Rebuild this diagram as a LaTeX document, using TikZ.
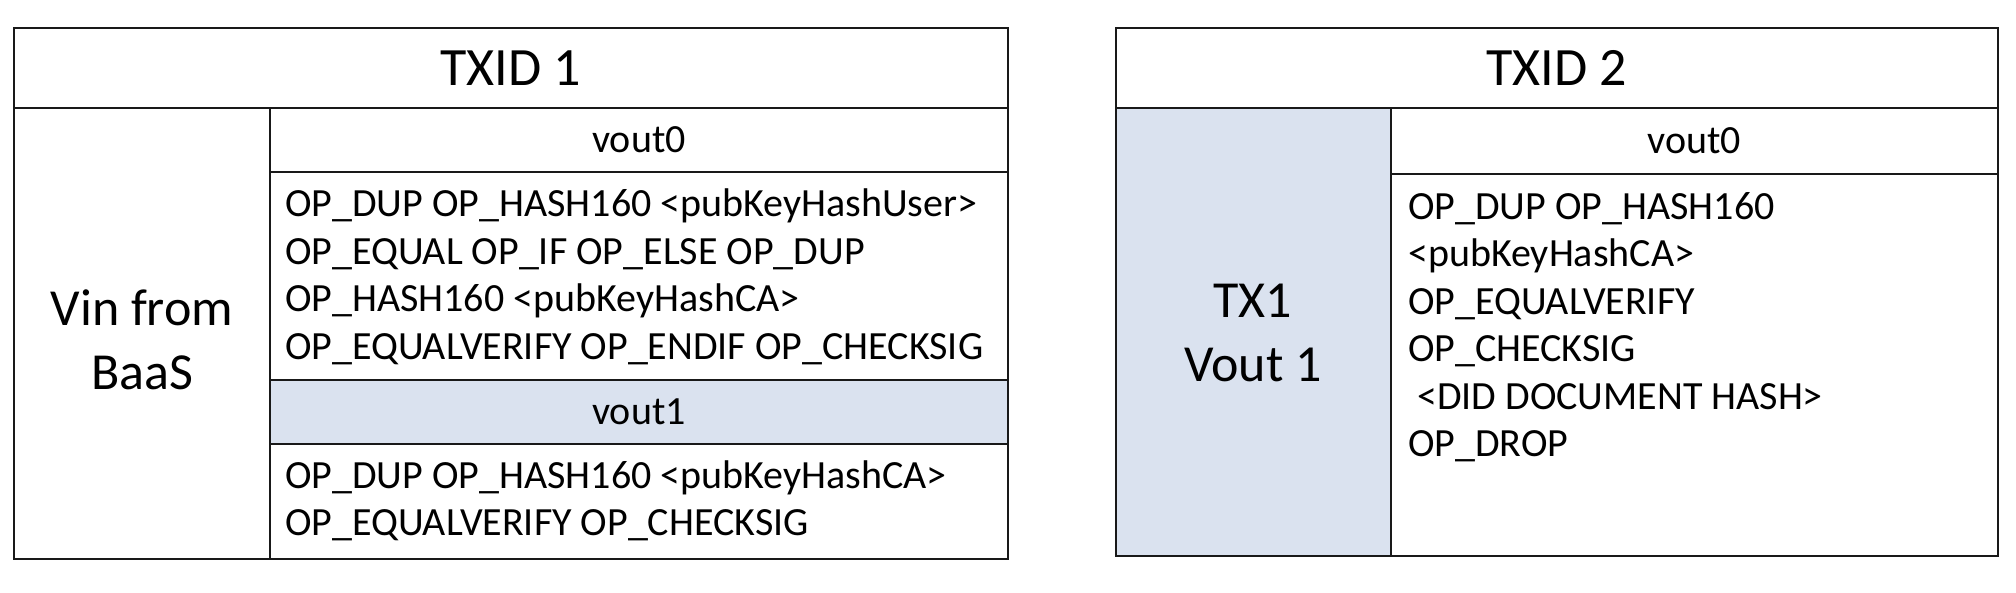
\documentclass[tikz,border=0pt]{standalone}
\usepackage{fontspec}
\setmainfont{Carlito}
\usetikzlibrary{fit}
\definecolor{cellblue}{RGB}{218,226,239}
\newcommand\setfs[2]{\fontsize{#1}{#2}\selectfont}
\begin{document}
\begin{tikzpicture}[x=1pt,y=-1pt,
  cell/.style={draw=black!90, line width=1.8pt, inner sep=0pt, outer sep=0pt, rectangle},
  shaded/.style={cell, fill=cellblue},
  titletext/.style={font=\setfs{54}{64}, inner sep=0pt},
  bigtext/.style={font=\setfs{52}{64}, align=center, inner sep=0pt},
  labeltext/.style={font=\setfs{40}{48}, inner sep=0pt},
  bodytext/.style={font=\setfs{40}{47.5}, align=left, anchor=west, inner sep=0pt}]
\useasboundingbox (0,0) rectangle (2016,592);
% ---- TXID 1 ----
\node[cell, fit={(14,28) (1008,108)}] (t1) {};
\node[cell, fit={(14,108) (270,559)}] (vin) {};
\node[cell, fit={(270,108) (1008,172)}] (t1v0h) {};
\node[cell, fit={(270,172) (1008,380)}] (t1v0b) {};
\node[shaded, fit={(270,380) (1008,444)}] (t1v1h) {};
\node[cell, fit={(270,444) (1008,559)}] (t1v1b) {};
\node[titletext] (t1txt) at (t1.center) {TXID 1};
\node[bigtext] (vintxt) at (142,340) {Vin from\\BaaS};
\node[labeltext] (t1v0htxt) at (t1v0h.center) {vout0};
\node[labeltext] (t1v1htxt) at (t1v1h.center) {vout1};
\node[bodytext] (t1v0txt) at (285,277) {OP\_DUP OP\_HASH160 <pubKeyHashUser>\\OP\_EQUAL OP\_IF OP\_ELSE OP\_DUP\\OP\_HASH160 <pubKeyHashCA>\\OP\_EQUALVERIFY OP\_ENDIF OP\_CHECKSIG};
\node[bodytext] (t1v1txt) at (285,501) {OP\_DUP OP\_HASH160 <pubKeyHashCA>\\OP\_EQUALVERIFY OP\_CHECKSIG};
% ---- TXID 2 ----
\node[cell, fit={(1116,28) (1998,108)}] (t2) {};
\node[shaded, fit={(1116,108) (1391,556)}] (tx1) {};
\node[cell, fit={(1391,108) (1998,174)}] (t2v0h) {};
\node[cell, fit={(1391,174) (1998,556)}] (t2v0b) {};
\node[titletext] (t2txt) at (t2.center) {TXID 2};
\node[bigtext] (tx1txt) at (1253,333) {TX1\\Vout 1};
\node[labeltext] (t2v0htxt) at (t2v0h.center) {vout0};
\node[bodytext] (t2v0txt) at (1408,327) {OP\_DUP OP\_HASH160\\<pubKeyHashCA>\\OP\_EQUALVERIFY\\OP\_CHECKSIG\\\hspace*{9pt}<DID DOCUMENT HASH>\\OP\_DROP};
\end{tikzpicture}
\end{document}
